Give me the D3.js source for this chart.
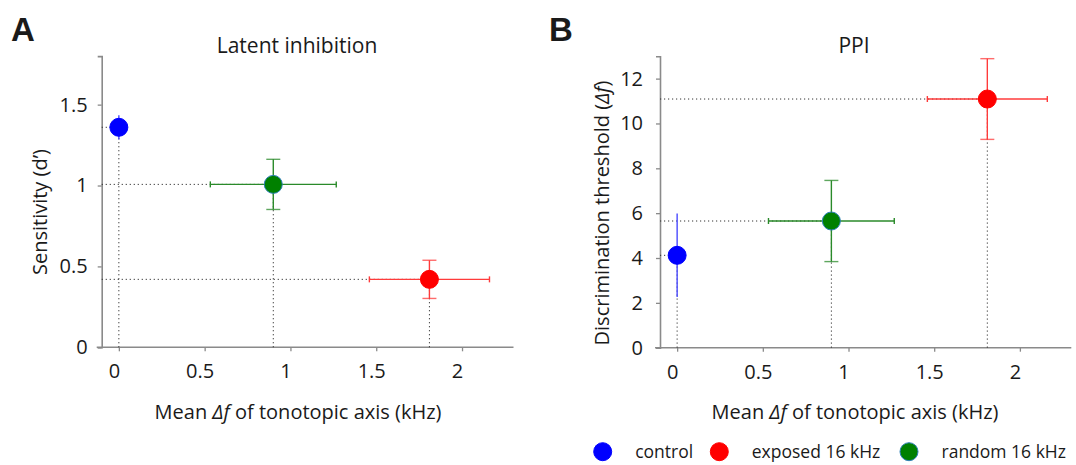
<!DOCTYPE html>
<html>
<head>
<meta charset="utf-8">
<script src="https://cdn.jsdelivr.net/npm/d3@7"></script>
<style>
  html, body { margin: 0; padding: 0; background: #fff; }
  svg text { font-family: "Open Sans", Lato, sans-serif; fill: #1a1a1a; }
</style>
</head>
<body>
<svg id="fig" width="1076" height="465"></svg>
<script>
// Groups, in legend order
const groups = ["control", "exposed 16 kHz", "random 16 kHz"];
const groupColors = ["#0000ff", "#ff0000", "#008000"];

// Mean Δf along the tonotopic axis (kHz) and its error
const meanDf    = [0.0, 1.81, 0.90];
const meanDfErr = [0.0, 0.35, 0.367];

// Panel A: latent inhibition sensitivity (d')
const sensitivity    = [1.36, 0.42, 1.007];
const sensitivityErr = [0.075, 0.118, 0.155];

// Panel B: PPI discrimination threshold (Δf)
const threshold    = [4.12, 11.09, 5.65];
const thresholdErr = [1.86, 1.80, 1.81];

// Tick labels
const xTickValues  = [0, 0.5, 1, 1.5, 2];
const yTickValuesA = [0, 0.5, 1, 1.5];
const yTickValuesB = [0, 2, 4, 6, 8, 10, 12];

const svg = d3.select("#fig");
const axisColor = "#8a8a8a";
const barColors = ["#4a4aff", "#ff3b3b", "#2a8a2a"];
const vCap = [0, 7, 7];
const hCap = [0, 3, 3];

function panel(opts) {
  const g = svg.append("g");
  const x = d3.scaleLinear().domain([-0.1, 2.3]).range(opts.xRange);
  const y = d3.scaleLinear().domain(opts.yDomain).range(opts.yRange);

  // axes
  const xAxis = d3.axisBottom(x).tickValues(xTickValues).tickSize(4).tickPadding(13)
    .tickFormat(d => String(d));
  const yAxis = d3.axisLeft(y).tickValues(opts.yTicks).tickSize(4).tickPadding(opts.yPad)
    .tickFormat(d => String(d));

  const gx = g.append("g").attr("transform", `translate(0,${opts.yRange[0]})`).call(xAxis);
  const gy = g.append("g").attr("transform", `translate(${opts.xRange[0]},0)`).call(yAxis);
  [gx, gy].forEach(a => {
    a.select(".domain").attr("stroke", axisColor).attr("stroke-width", 1.6);
    a.selectAll(".tick line").attr("stroke", axisColor).attr("stroke-width", 1.3);
    a.selectAll(".tick text").attr("font-size", 20).attr("fill", "#1a1a1a")
      .style("font-family", "'Open Sans', Lato, sans-serif");
  });
  gx.selectAll(".tick text").attr("dx", -5);
  gx.select(".domain").attr("d", `M${opts.xRange[0] - 5},0H${opts.xRange[1]}`);

  const idx = d3.range(groups.length);
  const xs = meanDf, ys = opts.values, yErr = opts.errors;

  // dotted guide lines down to the x axis and across to the y axis
  const guides = g.append("g").attr("stroke", "#333").attr("stroke-width", 1)
    .attr("stroke-dasharray", "1.2,2.8").attr("fill", "none");
  guides.selectAll("line.h").data(idx).join("line").attr("class", "h")
    .attr("x1", x(-0.1)).attr("x2", i => x(xs[i]))
    .attr("y1", i => y(ys[i])).attr("y2", i => y(ys[i]));
  guides.selectAll("line.v").data(idx).join("line").attr("class", "v")
    .attr("x1", i => x(xs[i])).attr("x2", i => x(xs[i]))
    .attr("y1", y(0)).attr("y2", i => y(ys[i]));

  // error bars
  const bars = g.append("g").attr("fill", "none").attr("stroke-width", 1.4);
  idx.forEach(i => {
    const c = barColors[i];
    const cx = x(xs[i]), cy = y(ys[i]);
    const top = y(ys[i] + yErr[i]), bot = y(ys[i] - yErr[i]);
    bars.append("line").attr("stroke", c).attr("x1", cx).attr("x2", cx).attr("y1", top).attr("y2", bot);
    if (vCap[i]) {
      [top, bot].forEach(yy => bars.append("line").attr("stroke", c).attr("stroke-opacity", 0.75)
        .attr("x1", cx - vCap[i]).attr("x2", cx + vCap[i]).attr("y1", yy).attr("y2", yy));
    }
    if (meanDfErr[i] > 0) {
      const l = x(xs[i] - meanDfErr[i]), r = x(xs[i] + meanDfErr[i]);
      bars.append("line").attr("stroke", c).attr("x1", l).attr("x2", r).attr("y1", cy).attr("y2", cy);
      [l, r].forEach(xx => bars.append("line").attr("stroke", c)
        .attr("x1", xx).attr("x2", xx).attr("y1", cy - hCap[i]).attr("y2", cy + hCap[i]));
    }
  });

  // markers
  g.append("g").selectAll("circle").data(idx).join("circle")
    .attr("cx", i => x(xs[i])).attr("cy", i => y(ys[i])).attr("r", 9)
    .attr("fill", i => groupColors[i])
    .attr("stroke", i => i === 2 ? "#2d7fb8" : groupColors[i]).attr("stroke-width", 1);

  // titles
  g.append("text").attr("x", opts.titleX).attr("y", 53).attr("text-anchor", "middle")
    .attr("font-size", 21).text(opts.title);
  g.append("text").attr("x", opts.letterX).attr("y", 41).attr("font-size", 33)
    .attr("font-weight", "bold").style("font-family", "'Liberation Sans', Arial, sans-serif")
    .attr("fill", "#000").text(opts.letter);

  const xt = g.append("text").attr("x", opts.xTitleX).attr("y", 419).attr("text-anchor", "middle")
    .attr("font-size", 20);
  xt.append("tspan").text("Mean ");
  xt.append("tspan").attr("font-style", "italic").text("Δf");
  xt.append("tspan").text(" of tonotopic axis (kHz)");

  const yt = g.append("text").attr("transform", `translate(${opts.yTitleX},${opts.yTitleY}) rotate(-90)`)
    .attr("text-anchor", "middle").attr("font-size", 20);
  opts.yTitle(yt);
}

panel({
  letter: "A", letterX: 11, title: "Latent inhibition", titleX: 297,
  xRange: [101.7, 513.5], yDomain: [0, 1.8], yRange: [347.3, 56.1],
  yTicks: yTickValuesA, yPad: 10,
  values: sensitivity, errors: sensitivityErr,
  xTitleX: 298, yTitleX: 47, yTitleY: 212,
  yTitle: t => t.text("Sensitivity (d’)")
});

panel({
  letter: "B", letterX: 549, title: "PPI", titleX: 854,
  xRange: [660, 1071.3], yDomain: [0, 13], yRange: [347.7, 56.2],
  yTicks: yTickValuesB, yPad: 13,
  values: threshold, errors: thresholdErr,
  xTitleX: 855, yTitleX: 609, yTitleY: 213,
  yTitle: t => {
    t.append("tspan").text("Discrimination threshold (");
    t.append("tspan").attr("font-style", "italic").text("Δf");
    t.append("tspan").text(")");
  }
});

// legend
const legendX = [602.7, 719.3, 909];
const legend = svg.append("g");
groups.forEach((name, i) => {
  legend.append("circle").attr("cx", legendX[i]).attr("cy", 451.7).attr("r", 9)
    .attr("fill", groupColors[i]).attr("stroke", i === 2 ? "#2d7fb8" : groupColors[i]);
  legend.append("text").attr("x", legendX[i] + 32.5).attr("y", 458).attr("font-size", 17.5)
    .text(name);
});
</script>
</body>
</html>
